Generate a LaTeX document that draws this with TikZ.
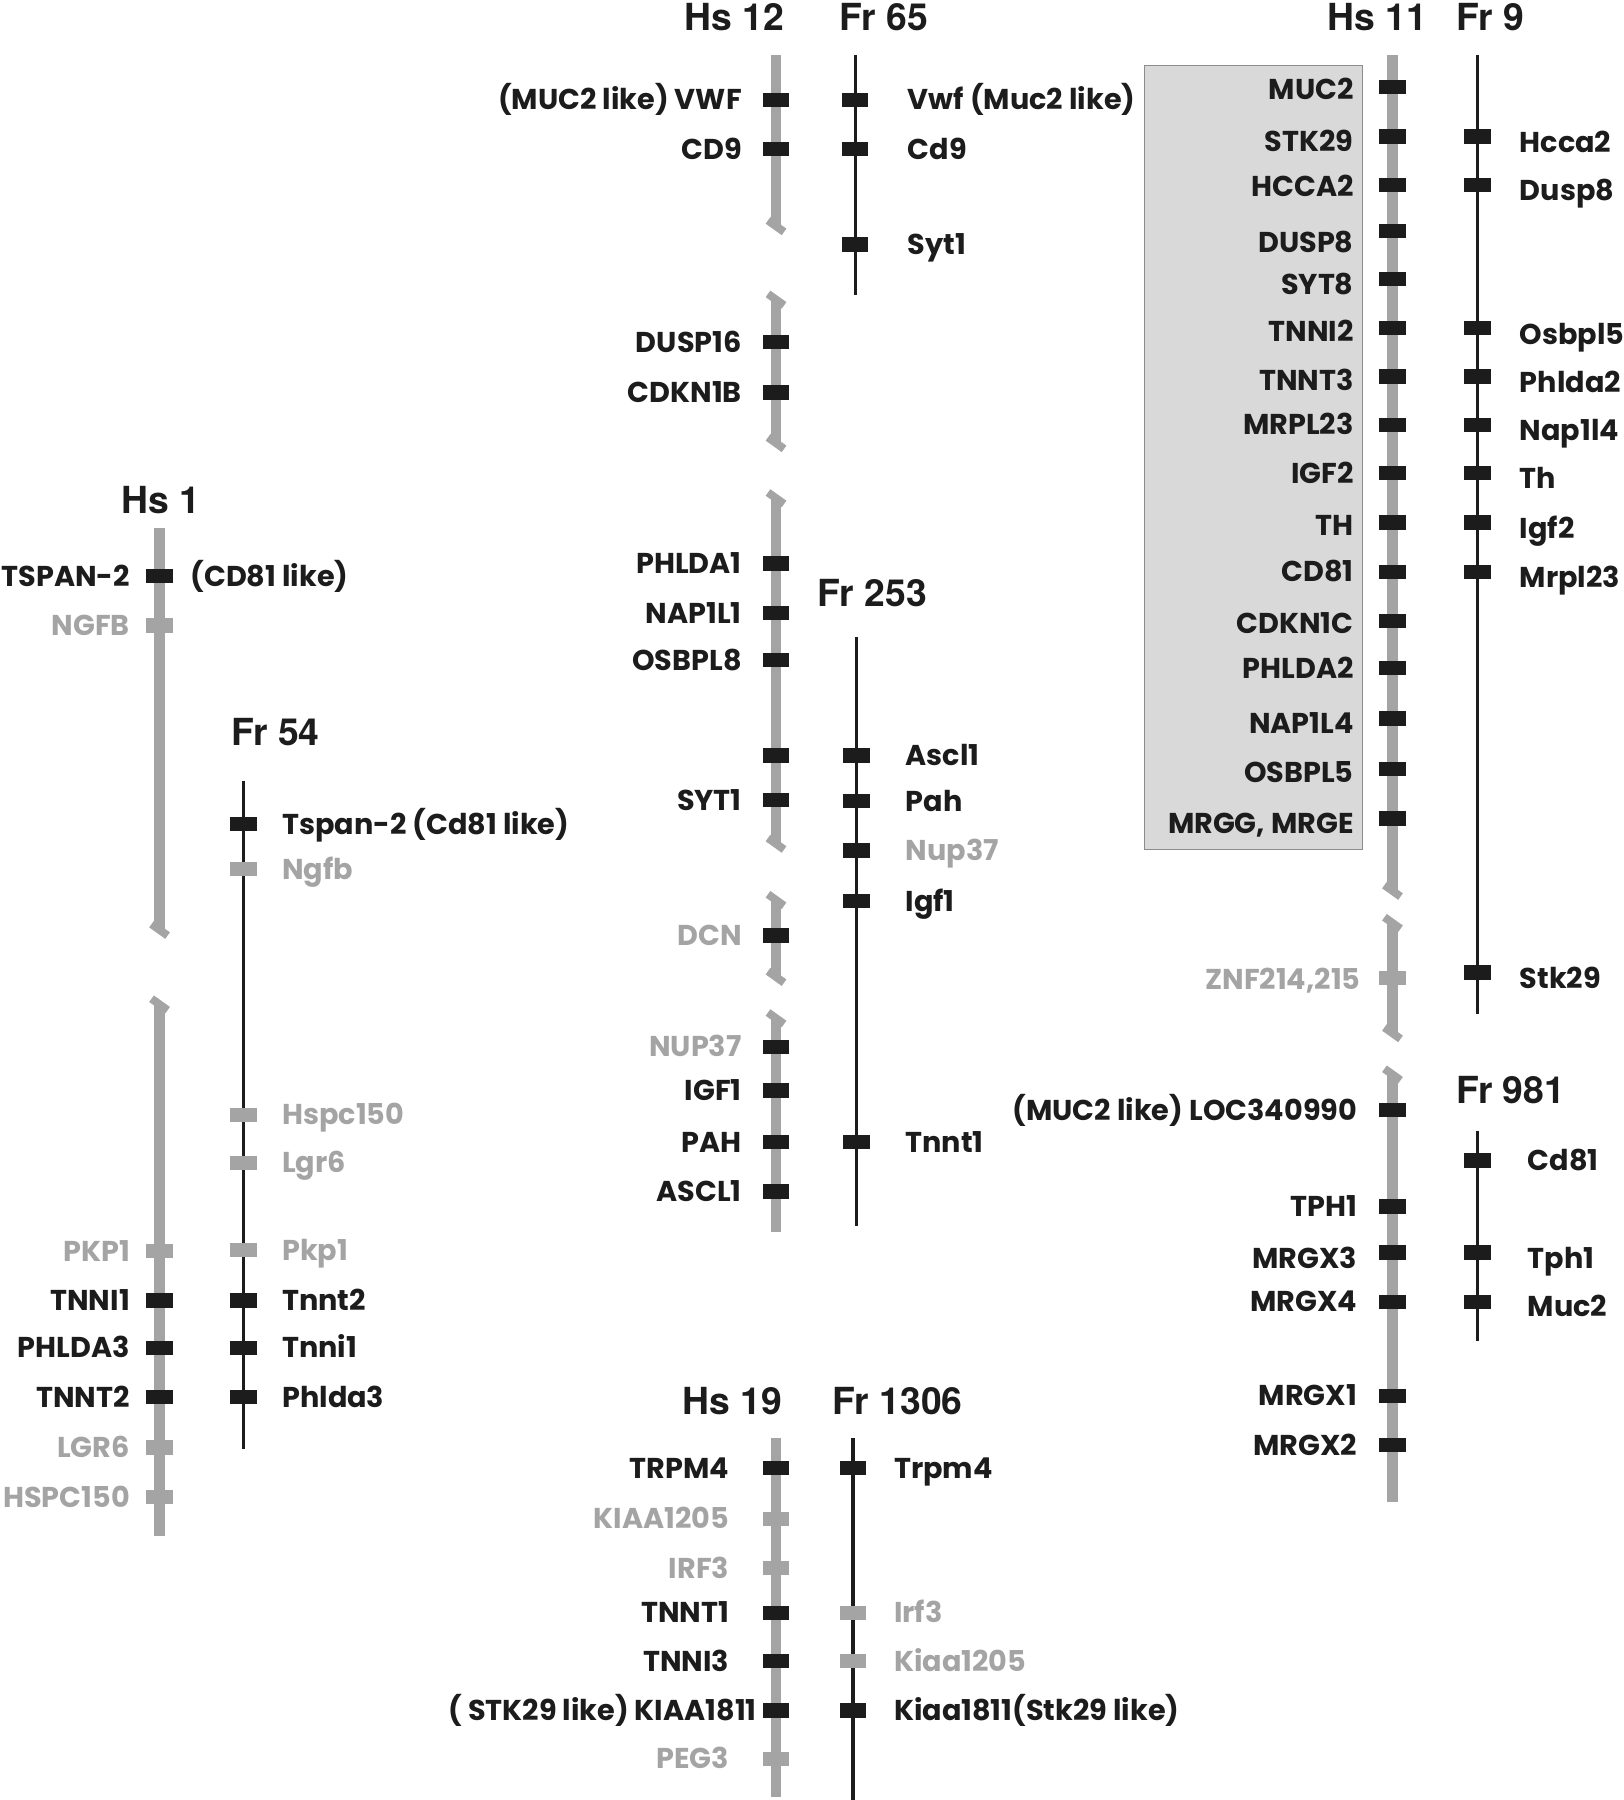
\documentclass[tikz,border=0pt]{standalone}
\usepackage{fontspec}
\setmainfont{Poppins}
\newfontfamily\titlefamily{TeX Gyre Heros}
\usetikzlibrary{positioning}
\definecolor{genedark}{RGB}{28,28,28}
\definecolor{genepale}{RGB}{164,164,164}
\definecolor{boxfill}{RGB}{217,217,217}
\definecolor{boxline}{RGB}{140,140,140}
\newcommand{\genefont}{\fontsize{25}{27}\selectfont\bfseries}
\newcommand{\titlefont}{\titlefamily\fontsize{32.5}{34}\selectfont\bfseries}
\tikzstyle{hs bar}=[draw=genepale,line width=9pt]
\tikzstyle{hs break}=[draw=genepale,line width=7pt]
\tikzstyle{fr line}=[draw=genedark,line width=3pt]
\tikzstyle{gene}=[rectangle,fill=genedark,minimum width=23pt,minimum height=12.5pt,inner sep=0pt]
\tikzstyle{gene text}=[inner sep=0pt,text height=17.5pt,text depth=0pt,font=\genefont]
\tikzstyle{chrom title}=[inner sep=0pt,text height=23pt,text depth=0pt,font=\titlefont,text=genedark]

\begin{document}
\begin{tikzpicture}[x=1pt,y=-1pt]
    \useasboundingbox (0,0) rectangle (1414,1568);
    % shaded block of Hs 11
    \path[draw=boxline,fill=boxfill,line width=1pt] (997,57) rectangle (1187,740);

    % human chromosomes, cut into pieces
    \foreach \name/\x/\top/\bot in {hs1a/139/460/810, hs1b/139/875/1338,
                                    hs12a/676/48/197, hs12b/676/261/386, hs12c/676/434/735,
                                    hs12d/676/784/851, hs12e/676/887/1073,
                                    hs19/676/1253/1565,
                                    hs11a/1213/48/776, hs11b/1213/804/900, hs11c/1213/936/1308}
    {
        \coordinate (\name-t) at (\x,\top);
        \coordinate (\name-b) at (\x,\bot);
        \path[hs bar] (\name-t) -- (\name-b);
    }
    \foreach \pt in {hs1a-b, hs1b-t, hs12a-b, hs12b-t, hs12b-b, hs12c-t, hs12c-b,
                     hs12d-t, hs12d-b, hs12e-t, hs11a-b, hs11b-t, hs11b-b, hs11c-t}
        \path[hs break] ([shift={(-7,-5)}]\pt) -- ([shift={(7,5)}]\pt);

    % fugu scaffolds
    \foreach \name/\x/\top/\bot in {fr54/212/680/1262, fr65/745/48/257, fr253/746/555/1068,
                                    fr1306/743/1253/1568, fr9/1287/48/883, fr981/1287/985/1168}
    {
        \coordinate (\name-t) at (\x,\top);
        \coordinate (\name-b) at (\x,\bot);
        \path[fr line] (\name-t) -- (\name-b);
    }

    % Hs 1 / Fr 54
    \foreach \y/\gname/\gcol/\txt in {502/tspan/genedark/TSPAN-2, 545/ngfb/genepale/NGFB,
                                      1090/pkp/genepale/PKP1, 1133/tnni/genedark/TNNI1,
                                      1174/phlda/genedark/PHLDA3, 1217/tnnt/genedark/TNNT2,
                                      1261/lgr/genepale/LGR6, 1304/hspc/genepale/HSPC150}
    {
        \node[gene,fill=\gcol] (hs1-\gname) at (139,\y) {};
        \node[gene text,text=\gcol,left=14pt of hs1-\gname] {\txt};
    }
    \node[gene text,text=genedark,right=15pt of hs1-tspan] {(CD81 like)};
    \foreach \y/\gname/\gcol/\txt in {718/tspan/genedark/{Tspan-2 (Cd81 like)}, 757/ngfb/genepale/Ngfb,
                                      971/hspc/genepale/Hspc150, 1013/lgr/genepale/Lgr6,
                                      1089/pkp/genepale/Pkp1, 1133/tnnt/genedark/Tnnt2,
                                      1174/tnni/genedark/Tnni1, 1217/phlda/genedark/Phlda3}
    {
        \node[gene,fill=\gcol] (fr54-\gname) at (212,\y) {};
        \node[gene text,text=\gcol,right=22pt of fr54-\gname] {\txt};
    }

    % Hs 12 / Fr 65 / Fr 253
    \foreach \y/\gname/\tcol/\txt in {87/vwf/genedark/{(MUC2 like) VWF}, 130/cd/genedark/CD9,
                                      298/dusp/genedark/DUSP16, 342/cdkn/genedark/CDKN1B,
                                      491/phlda/genedark/PHLDA1, 534/nap/genedark/NAP1L1,
                                      575/osbpl/genedark/OSBPL8, 697/syt/genedark/SYT1,
                                      815/dcn/genepale/DCN, 912/nup/genepale/NUP37,
                                      950/igf/genedark/IGF1, 995/pah/genedark/PAH,
                                      1038/ascl/genedark/ASCL1}
    {
        \node[gene] (hs12-\gname) at (676,\y) {};
        \node[gene text,text=\tcol,left=18pt of hs12-\gname] {\txt};
    }
    \node[gene] (hs12-extra) at (676,658) {};
    \foreach \y/\gname/\txt in {87/vwf/{Vwf (Muc2 like)}, 130/cd/Cd9, 213/syt/Syt1}
    {
        \node[gene] (fr65-\gname) at (745,\y) {};
        \node[gene text,text=genedark,right=34pt of fr65-\gname] {\txt};
    }
    \foreach \y/\gname/\tcol/\txt in {658/ascl/genedark/Ascl1, 698/pah/genedark/Pah,
                                      741/nup/genepale/Nup37, 785/igf/genedark/Igf1,
                                      995/tnnt/genedark/Tnnt1}
    {
        \node[gene] (fr253-\gname) at (746,\y) {};
        \node[gene text,text=\tcol,right=31pt of fr253-\gname] {\txt};
    }

    % Hs 19 / Fr 1306
    \foreach \y/\gname/\gcol/\gap/\txt in {1279/trpm/genedark/29/TRPM4, 1323/kiaa/genepale/29/KIAA1205,
                                           1366/irf/genepale/29/IRF3, 1405/tnnt/genedark/29/TNNT1,
                                           1447/tnni/genedark/29/TNNI3,
                                           1490/kiaa18/genedark/5/{( STK29 like) KIAA1811},
                                           1532/peg/genepale/29/PEG3}
    {
        \node[gene,fill=\gcol] (hs19-\gname) at (676,\y) {};
        \node[gene text,text=\gcol,left=\gap pt of hs19-\gname] {\txt};
    }
    \foreach \y/\gname/\gcol/\txt in {1279/trpm/genedark/Trpm4, 1405/irf/genepale/Irf3,
                                      1447/kiaa/genepale/Kiaa1205,
                                      1490/kiaa18/genedark/{Kiaa1811(Stk29 like)}}
    {
        \node[gene,fill=\gcol] (fr1306-\gname) at (743,\y) {};
        \node[gene text,text=\gcol,right=24pt of fr1306-\gname] {\txt};
    }

    % Hs 11 / Fr 9 / Fr 981
    \foreach \y/\dy/\gname/\gcol/\gap/\txt in {76/2/muc/genedark/22/MUC2, 119/4/stk/genedark/22/STK29,
                                               161/1/hcca/genedark/22/HCCA2, 201/10/dusp/genedark/22/DUSP8,
                                               243/5/syt/genedark/22/SYT8, 286/3/tnni/genedark/22/TNNI2,
                                               328/3/tnnt/genedark/22/TNNT3, 370/0/mrpl/genedark/22/MRPL23,
                                               412/0/igf/genedark/22/IGF2, 455/3/th/genedark/22/TH,
                                               498/0/cd/genedark/22/CD81, 541/2/cdkn/genedark/22/CDKN1C,
                                               582/0/phlda/genedark/22/PHLDA2, 626/4/nap/genedark/22/NAP1L4,
                                               670/3/osbpl/genedark/22/OSBPL5, 713/4/mrg/genedark/22/{MRGG, MRGE},
                                               852/1/znf/genepale/16/{ZNF214,215},
                                               967/0/loc/genedark/19/{(MUC2 like) LOC340990},
                                               1051/0/tph/genedark/19/TPH1, 1091/5/mrgxc/genedark/19/MRGX3,
                                               1134/0/mrgxd/genedark/19/MRGX4, 1216/0/mrgxa/genedark/19/MRGX1,
                                               1259/0/mrgxb/genedark/19/MRGX2}
    {
        \node[gene,fill=\gcol] (hs11-\gname) at (1213,\y) {};
        \node[gene text,text=\gcol,left=\gap pt of hs11-\gname,yshift=-\dy] {\txt};
    }
    \foreach \y/\gname/\txt in {119/hcca/Hcca2, 161/dusp/Dusp8, 286/osbpl/Osbpl5, 328/phlda/Phlda2,
                                370/nap/Nap1l4, 412/th/Th, 455/igf/Igf2, 498/mrpl/Mrpl23, 847/stk/Stk29}
    {
        \node[gene] (fr9-\gname) at (1287,\y) {};
        \node[gene text,text=genedark,right=25pt of fr9-\gname,yshift=-5] {\txt};
    }
    \foreach \y/\dy/\gname/\txt in {1011/0/cd/Cd81, 1091/5/tph/Tph1, 1134/4/muc/Muc2}
    {
        \node[gene] (fr981-\gname) at (1287,\y) {};
        \node[gene text,text=genedark,right=32pt of fr981-\gname,yshift=-\dy] {\txt};
    }

    % titles
    \foreach \pos/\name/\txt in {{(640,15)/t-hs12/Hs 12}, {(770,15)/t-fr65/Fr 65},
                                 {(1200,15)/t-hs11/Hs 11}, {(1298,15)/t-fr9/Fr 9},
                                 {(140,436)/t-hs1/Hs 1}, {(240,638)/t-fr54/Fr 54},
                                 {(760,517)/t-fr253/Fr 253}, {(1316,950)/t-fr981/Fr 981},
                                 {(638,1221)/t-hs19/Hs 19}, {(782,1221)/t-fr1306/Fr 1306}}
        \node[chrom title] (\name) at \pos {\txt};
\end{tikzpicture}
\end{document}
